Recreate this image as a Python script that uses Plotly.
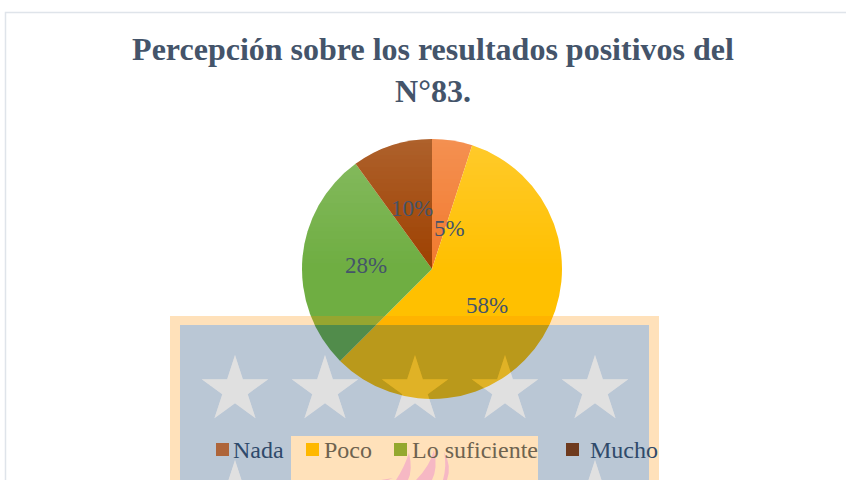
import math
import plotly.graph_objects as go

# ---- data ----
categories = ["Nada", "Poco", "Lo suficiente", "Mucho"]
counts = [2, 23, 11, 4]
slice_colors = ["#F27A2E", "#FFC000", "#6FAE42", "#9E4100"]
title_text = "Percepción sobre los resultados positivos del<br>N°83."

W, H = 846, 480
CX, CY, R = 432, 269, 130
INK = "#44546A"


def X(px):
    return px / W


def Y(px):
    return 1 - px / H


def pt(x, y):
    return f"{X(x):.5f},{Y(y):.5f}"


def poly(points):
    return "M" + " L".join(pt(x, y) for x, y in points) + " Z "


def rect(x0, y0, x1, y1):
    return poly([(x0, y0), (x1, y0), (x1, y1), (x0, y1)])


def star(cx, cy, r):
    pts = []
    for i in range(10):
        rr = r if i % 2 == 0 else r * 0.382
        a = math.radians(i * 36)
        pts.append((cx + rr * math.sin(a), cy - rr * math.cos(a)))
    return poly(pts)


def path_shape(d, color, opacity=None):
    s = dict(type="path", xref="paper", yref="paper", path=d, fillcolor=color,
             line=dict(width=0), layer="above")
    if opacity is not None:
        s["opacity"] = opacity
    return s


shapes = []

# soft top-light gradient on the pie, built from chord strips
step = 4
for y0 in range(CY - R, CY, step):
    y1 = min(y0 + step, CY)
    pts = []
    n = 14
    for k in range(n + 1):
        y = y0 + (y1 - y0) * k / n
        pts.append((CX - math.sqrt(max(R**2 - (y - CY) ** 2, 0)), y))
    for k in range(n, -1, -1):
        y = y0 + (y1 - y0) * k / n
        pts.append((CX + math.sqrt(max(R**2 - (y - CY) ** 2, 0)), y))
    alpha = 0.17 * (CY - (y0 + y1) / 2) / R
    shapes.append(path_shape(poly(pts), f"rgba(255,255,255,{alpha:.3f})"))

# translucent watermark lying over the chart
row1 = [235, 325, 415, 505, 595]
row2 = [235, 595]
sy1, sy2, sr = 390, 495, 35
frame = rect(170, 316, 659, 490) + rect(180, 325, 649, 490)
centre = rect(291, 436, 538, 490)
stars = "".join(star(x, sy1, sr) for x in row1) + "".join(star(x, sy2, sr) for x in row2)
shapes.append(path_shape(frame + centre, "rgba(255,144,0,0.27)"))
shapes.append(path_shape(rect(180, 325, 649, 490) + centre + stars, "rgba(0,48,100,0.27)"))
shapes.append(path_shape(stars, "rgba(140,140,140,0.27)"))

# flames of the watermark crest
flames = [
    "M409,453 Q413,470 408,480 L396,480 Q404,468 409,453 Z",
    "M434,450 Q438,468 432,480 L416,480 Q430,466 434,450 Z",
    "M444,452 Q452,466 447,480 L443,480 Q447,466 444,452 Z",
    "M393,478 L388,480 L381,480 Z",
]
for f in flames:
    toks = f.replace("M", " M ").replace("Q", " Q ").replace("L", " L ").replace("Z", " Z ").split()
    out = []
    for t in toks:
        if "," in t:
            a, b = t.split(",")
            out.append(pt(float(a), float(b)))
        else:
            out.append(t)
    shapes.append(path_shape(" ".join(out), "#F6B8C4"))

# card outline
shapes.append(dict(type="path", xref="paper", yref="paper",
                   path=f"M{pt(5.5, 490)} L{pt(5.5, 12.5)} L{pt(856, 12.5)}",
                   line=dict(color="#DFE4EA", width=1.5), layer="above"))

# legend swatches, tinted by the watermark as in the reference
swatch_x = [216, 306, 394, 566]
swatch_colors = ["#AE653A", "#FFB800", "#94A82F", "#6E3A1E"]
for x, c in zip(swatch_x, swatch_colors):
    shapes.append(path_shape(rect(x, 443, x + 13, 456), c))

annotations = []
# percent labels
total = sum(counts)
label_pos = [(449, 228), (487, 305), (366, 265), (412, 208)]
for v, (x, y) in zip(counts, label_pos):
    annotations.append(dict(text=f"{100 * v / total:.0f}%", x=X(x), y=Y(y), xref="paper", yref="paper",
                            showarrow=False, xanchor="center", yanchor="middle",
                            font=dict(family="Liberation Serif", size=23, color=INK)))
# legend labels
legend_x = [233, 324, 412, 590]
legend_colors = ["#2F4A6B", "#6E6350", "#6E6350", "#2F4A6B"]
for name, x, c in zip(categories, legend_x, legend_colors):
    annotations.append(dict(text=name, x=X(x), y=Y(449.5), xref="paper", yref="paper",
                            showarrow=False, xanchor="left", yanchor="middle",
                            font=dict(family="Liberation Serif", size=24, color=c),
                            borderpad=0, borderwidth=0))

fig = go.Figure(go.Pie(
    labels=categories,
    values=counts,
    sort=False,
    direction="clockwise",
    rotation=0,
    textinfo="none",
    hoverinfo="label+percent",
    showlegend=False,
    marker=dict(colors=slice_colors, line=dict(width=0)),
    domain=dict(x=[X(CX - R), X(CX + R)], y=[Y(CY + R), Y(CY - R)]),
))

fig.update_layout(
    width=W, height=H,
    margin=dict(l=0, r=0, t=0, b=0),
    paper_bgcolor="white",
    title=dict(text=title_text, x=433 / W, xanchor="center", y=Y(60), yanchor="middle", yref="paper",
               font=dict(family="Liberation Serif", size=32, color=INK, weight="bold")),
    shapes=shapes,
    annotations=annotations,
)

fig.write_html("out.html", config=dict(displayModeBar=False),
               post_script="document.body.style.margin='0';document.documentElement.style.overflow='hidden';")
